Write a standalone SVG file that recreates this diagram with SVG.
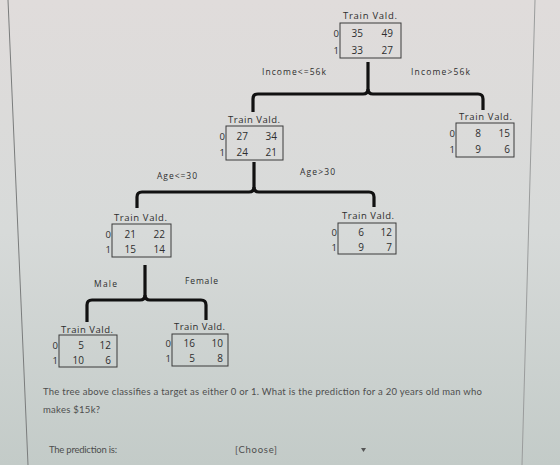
<svg xmlns="http://www.w3.org/2000/svg" width="560" height="465" viewBox="0 0 560 465">
<defs>
<linearGradient id="bg" x1="0" y1="0" x2="0" y2="1">
<stop offset="0" stop-color="#e0dcdb"/>
<stop offset="0.5" stop-color="#d7dad9"/>
<stop offset="1" stop-color="#c3cbc8"/>
</linearGradient>
<style>
.hdr{font-family:"Open Sans","Liberation Sans",sans-serif;font-size:9.5px;fill:#2e2e2e}
.num{font-family:"Open Sans","Liberation Sans",sans-serif;font-size:10px;fill:#2e2e2e;text-anchor:end}
.row{font-family:"Open Sans","Liberation Sans",sans-serif;font-size:9.5px;fill:#2e2e2e;text-anchor:end}
.lbl{font-family:"Open Sans","Liberation Sans",sans-serif;font-size:8.5px;fill:#2e2e2e}
.box{fill:none;stroke:#3a3a3a;stroke-width:1}
.brace{fill:none;stroke:#111;stroke-width:3.2;stroke-linejoin:round;stroke-linecap:butt}
.q{font-family:Lato,"Open Sans",sans-serif;font-size:9.5px;fill:#4e4e4e}
</style>
</defs>
<rect x="0" y="0" width="560" height="465" fill="url(#bg)"/>
<line x1="8" y1="0" x2="28" y2="465" stroke="#7a7c7c" stroke-width="1"/>
<line x1="535" y1="0" x2="522" y2="465" stroke="#9a9c9c" stroke-width="1"/>

<g id="connectors">
<path class="brace" d="M368,62 L368,89 Q368,94 363,94 L258,94 Q253,94 253,99 L253,112"/>
<path class="brace" d="M368,89 Q368,94 373,94 L478,94 Q483,94 483,99 L483,110"/>
<path class="brace" d="M254,162 L254,187 Q254,192 249,192 L142,192 Q137,192 137,197 L137,208"/>
<path class="brace" d="M254,187 Q254,192 259,192 L369,192 Q374,192 374,197 L374,207"/>
<path class="brace" d="M145,265 L145,295 Q145,300 140,300 L92,300 Q87,300 87,305 L87,322"/>
<path class="brace" d="M145,295 Q145,300 150,300 L201,300 Q206,300 206,305 L206,320"/>
<text class="lbl" x="262" y="75" textLength="64">Income&lt;=56k</text>
<text class="lbl" x="411" y="75" textLength="59">Income&gt;56k</text>
<text class="lbl" x="157" y="179" textLength="40">Age&lt;=30</text>
<text class="lbl" x="300" y="175" textLength="35">Age&gt;30</text>
<text class="lbl" x="94" y="287" textLength="23">Male</text>
<text class="lbl" x="185" y="284" textLength="33">Female</text>
</g>

<g id="root">
<text class="hdr" x="343" y="19" textLength="54">Train Vald.</text>
<rect class="box" x="340" y="23" width="61" height="35"/>
<text class="row" x="339" y="37">0</text><text class="row" x="339" y="54">1</text>
<text class="num" x="363" y="37">35</text><text class="num" x="393" y="37">49</text>
<text class="num" x="363" y="54">33</text><text class="num" x="393" y="54">27</text>
</g>

<g id="node_income_high">
<text class="hdr" x="459" y="120" textLength="53">Train Vald.</text>
<rect class="box" x="456" y="123" width="58" height="34"/>
<text class="row" x="455" y="137">0</text><text class="row" x="455" y="153">1</text>
<text class="num" x="481" y="137">8</text><text class="num" x="510" y="137">15</text>
<text class="num" x="481" y="153">9</text><text class="num" x="510" y="153">6</text>
</g>

<g id="node_income_low">
<text class="hdr" x="228" y="123" textLength="52">Train Vald.</text>
<rect class="box" x="226" y="126" width="57" height="34"/>
<text class="row" x="225" y="140">0</text><text class="row" x="225" y="156">1</text>
<text class="num" x="248" y="140">27</text><text class="num" x="277" y="140">34</text>
<text class="num" x="248" y="156">24</text><text class="num" x="277" y="156">21</text>
</g>

<g id="node_age_low">
<text class="hdr" x="114" y="221" textLength="53">Train Vald.</text>
<rect class="box" x="112" y="224" width="59" height="33"/>
<text class="row" x="111" y="238">0</text><text class="row" x="111" y="253">1</text>
<text class="num" x="136" y="238">21</text><text class="num" x="165" y="238">22</text>
<text class="num" x="136" y="253">15</text><text class="num" x="165" y="253">14</text>
</g>

<g id="node_age_high">
<text class="hdr" x="342" y="219" textLength="52">Train Vald.</text>
<rect class="box" x="338" y="223" width="58" height="31"/>
<text class="row" x="337" y="236">0</text><text class="row" x="337" y="251">1</text>
<text class="num" x="364" y="236">6</text><text class="num" x="392" y="236">12</text>
<text class="num" x="364" y="251">9</text><text class="num" x="392" y="251">7</text>
</g>

<g id="node_male">
<text class="hdr" x="61" y="333" textLength="52">Train Vald.</text>
<rect class="box" x="59" y="335" width="58" height="32"/>
<text class="row" x="58" y="349">0</text><text class="row" x="58" y="364">1</text>
<text class="num" x="84" y="349">5</text><text class="num" x="111" y="349">12</text>
<text class="num" x="84" y="364">10</text><text class="num" x="111" y="364">6</text>
</g>

<g id="node_female">
<text class="hdr" x="174" y="330" textLength="51">Train Vald.</text>
<rect class="box" x="172" y="334" width="56" height="32"/>
<text class="row" x="171" y="347">0</text><text class="row" x="171" y="362">1</text>
<text class="num" x="195" y="347">16</text><text class="num" x="223" y="347">10</text>
<text class="num" x="195" y="362">5</text><text class="num" x="223" y="362">8</text>
</g>

<g id="question">
<text class="q" x="43" y="395" textLength="439">The tree above classifies a target as either 0 or 1. What is the prediction for a 20 years old man who</text>
<text class="q" x="43" y="413" textLength="57">makes $15k?</text>
<text class="q" x="49" y="453" font-size="8" fill="#5e5e5e" textLength="68">The prediction is:</text>
<text class="q" x="235" y="453" font-size="8" fill="#8a98a2" textLength="42">[Choose]</text>
<polygon points="361,448 366,448 363.5,452" fill="#555"/>
</g>
</svg>
